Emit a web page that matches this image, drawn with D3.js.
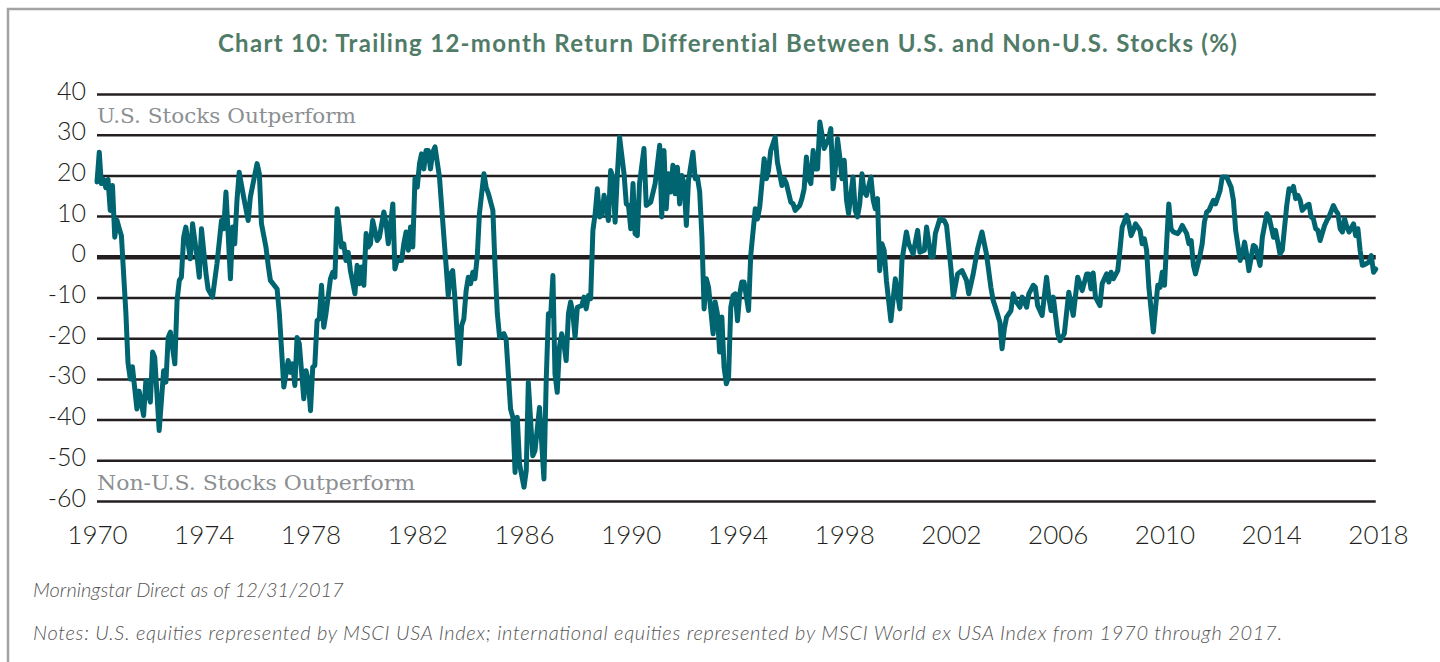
<!DOCTYPE html>
<html>
<head>
<meta charset="utf-8">
<script src="https://cdn.jsdelivr.net/npm/d3@7"></script>
<style>
  html, body { margin: 0; padding: 0; background: #fff; }
  svg { display: block; }
</style>
</head>
<body>
<div id="chart"></div>
<script>
//---------------------------DATA--------------------------------//
const dates = [
  "1970-01","1970-02","1970-03","1970-04","1970-05","1970-06","1970-07","1970-08","1970-09","1970-10","1970-11","1970-12",
  "1971-02","1971-03","1971-04","1971-05","1971-07","1971-08","1971-10","1971-11",
  "1972-01","1972-02","1972-03","1972-05","1972-07","1972-08","1972-09","1972-10","1972-12",
  "1973-01","1973-02","1973-03","1973-04","1973-05","1973-07","1973-08","1973-10","1973-11","1973-12",
  "1974-02","1974-03","1974-05","1974-07","1974-09","1974-10","1974-11","1974-12",
  "1975-01","1975-02","1975-03","1975-04","1975-05","1975-07","1975-09","1975-10",
  "1976-01","1976-02","1976-03","1976-05","1976-06","1976-07","1976-10","1976-11",
  "1977-01","1977-03","1977-04","1977-05","1977-06","1977-07","1977-08","1977-10","1977-11","1977-12",
  "1978-01","1978-02","1978-03","1978-04","1978-05","1978-06","1978-07","1978-08","1978-10","1978-11","1978-12",
  "1979-01","1979-03","1979-04","1979-05","1979-06","1979-07","1979-09","1979-10","1979-11","1979-12",
  "1980-01","1980-02","1980-03","1980-04","1980-05","1980-07","1980-08","1980-10","1980-11","1980-12",
  "1981-02","1981-03","1981-04","1981-06","1981-07","1981-08","1981-09","1981-10","1981-11","1981-12",
  "1982-01","1982-02","1982-03","1982-04","1982-05","1982-06","1982-07","1982-08","1982-09","1982-11",
  "1983-01","1983-02","1983-03","1983-04","1983-05","1983-06","1983-07","1983-08","1983-09","1983-10","1983-11","1983-12",
  "1984-01","1984-02","1984-03","1984-04","1984-05","1984-07","1984-08","1984-09","1984-11","1984-12",
  "1985-01","1985-02","1985-04","1985-05","1985-07","1985-08","1985-09","1985-10","1985-11",
  "1986-01","1986-02","1986-03","1986-05","1986-06","1986-08","1986-10","1986-11","1986-12",
  "1987-01","1987-02","1987-03","1987-04","1987-05","1987-06","1987-07","1987-08","1987-09","1987-10","1987-11","1987-12",
  "1988-01","1988-03","1988-04","1988-05","1988-06","1988-07","1988-08","1988-09","1988-10","1988-11","1988-12",
  "1989-01","1989-03","1989-04","1989-05","1989-06","1989-07","1989-08","1989-10","1989-11","1989-12",
  "1990-01","1990-02","1990-03","1990-04","1990-05","1990-07","1990-08","1990-10","1990-12",
  "1991-02","1991-03","1991-04","1991-05","1991-06","1991-07","1991-08","1991-09","1991-10","1991-11","1991-12",
  "1992-01","1992-02","1992-03","1992-05","1992-06","1992-07","1992-08","1992-09","1992-10","1992-11","1992-12",
  "1993-02","1993-03","1993-04","1993-05","1993-06","1993-07","1993-08","1993-09","1993-10","1993-11","1993-12",
  "1994-01","1994-02","1994-03","1994-04","1994-06","1994-07","1994-09","1994-10","1994-11",
  "1995-01","1995-02","1995-03","1995-04","1995-06","1995-07","1995-09","1995-10","1995-11",
  "1996-01","1996-02","1996-03","1996-05","1996-06","1996-07","1996-08","1996-09","1996-10","1996-11","1996-12",
  "1997-01","1997-02","1997-03","1997-04","1997-05","1997-06","1997-07","1997-08","1997-09","1997-10","1997-11","1997-12",
  "1998-01","1998-02","1998-03","1998-05","1998-06","1998-07","1998-08","1998-09","1998-10","1998-11",
  "1999-01","1999-02","1999-03","1999-04","1999-05","1999-06","1999-07","1999-08","1999-10","1999-12",
  "2000-02","2000-03","2000-05","2000-06","2000-08","2000-10","2000-11",
  "2001-01","2001-02","2001-04","2001-05","2001-06","2001-08","2001-10","2001-11",
  "2002-01","2002-02","2002-04","2002-05","2002-06","2002-08","2002-09","2002-11",
  "2003-01","2003-03","2003-05","2003-07","2003-08","2003-09","2003-11","2003-12",
  "2004-01","2004-02","2004-04","2004-05","2004-06","2004-08","2004-09","2004-11","2004-12",
  "2005-02","2005-03","2005-04","2005-06","2005-08","2005-09","2005-10","2005-11",
  "2006-01","2006-02","2006-04","2006-06","2006-08","2006-10","2006-12",
  "2007-02","2007-03","2007-04","2007-05","2007-06","2007-08","2007-09","2007-11","2007-12",
  "2008-01","2008-02","2008-04","2008-05","2008-06","2008-08","2008-09","2008-10","2008-11","2008-12",
  "2009-02","2009-03","2009-04","2009-05","2009-06","2009-08","2009-09","2009-10","2009-11","2009-12",
  "2010-01","2010-02","2010-03","2010-04","2010-05","2010-07","2010-08","2010-09","2010-11","2010-12",
  "2011-01","2011-02","2011-03","2011-05","2011-06","2011-07","2011-08","2011-09","2011-11","2011-12",
  "2012-02","2012-03","2012-05","2012-07","2012-08","2012-09","2012-11","2012-12",
  "2013-01","2013-02","2013-03","2013-05","2013-06","2013-08","2013-09","2013-11","2013-12",
  "2014-02","2014-03","2014-05","2014-06","2014-08","2014-09","2014-10","2014-11","2014-12",
  "2015-01","2015-02","2015-03","2015-05","2015-06","2015-07","2015-08","2015-09","2015-10","2015-11",
  "2016-01","2016-02","2016-03","2016-05","2016-06","2016-07","2016-08","2016-09","2016-10","2016-11","2016-12",
  "2017-02","2017-03","2017-04","2017-05","2017-06","2017-07","2017-09","2017-10","2017-11","2017-12"
];

const values = [
  18.4,25.7,18,19,17,19,11.4,17.5,4.8,9,7,5.2,
  -14,-26,-30,-27,-37.4,-33,-39,-30.4,
  -35.7,-23.4,-24.7,-42.7,-28,-30.8,-19.8,-18.5,-26.3,
  -10.7,-5.8,-5,4.8,7.3,-0.5,8.1,0,-5,6.9,
  -4.2,-7.9,-9.9,-1.7,8.9,6.9,15.9,5.7,
  -5.4,7.3,3.2,13.9,20.8,14.7,8.9,14.7,
  22.9,20.4,8.1,2.4,-2.1,-5.8,-7.9,-14,
  -32,-25.5,-28.4,-26.3,-31.6,-19.8,-21.4,-34.9,-28,-30.4,
  -37.8,-27.1,-26.7,-15.7,-15.2,-7,-17.3,-14,-5.4,-3.8,-5,
  11.8,2.4,3.2,-0.9,1.1,-3.4,-9.1,-2.1,-6.6,-2.5,
  -7,5.7,2.4,3.2,8.9,4,4.8,11,8.1,3.2,
  13,-3,-0.9,-0.9,3.2,6.1,1.6,7.3,2.4,19.2,
  17.1,22.9,25.3,21.6,26.1,26.1,21.6,25.7,27,19.6,
  4.8,-2.5,-9.5,-4.2,-3.4,-10.3,-18.9,-26.3,-16.9,-15.2,-8.3,-5,
  -6.6,-3.8,-5.4,0,10.6,20.4,17.1,15.5,11.4,-2.5,
  -14,-19.8,-18.9,-20.2,-37.4,-39.4,-53,-39.4,-50.9,
  -56.6,-52.5,-30.8,-48.9,-47.6,-37,-54.6,-30.4,-14,
  -14.4,-4.6,-28.8,-33.3,-22.2,-18.9,-21.4,-25.5,-14,-11.1,-14,-19.8,
  -12.4,-12,-9.9,-12.8,-9.5,-10.3,6.5,10.6,16.7,9.8,10.2,
  15.1,8.9,21.2,19.6,8.5,20,29.4,20.4,13,12.6,
  6.9,18,5.7,5.2,18,26.6,12.6,13.4,18,
  27.4,9.8,26.1,11.8,20.4,15.9,22.5,15.5,22,13,20,
  18,7.7,18.8,25.7,19.2,19.6,16,5,-12.8,-5.4,-7.5,
  -18.9,-11.1,-14,-23.4,-14.8,-27.1,-31.2,-29.6,-12.4,-9.5,-9.1,
  -15.7,-9.1,-6.2,-6.2,-13.2,0.3,11.8,9.3,12.2,
  24.1,19.2,21.2,26.1,29.4,23.3,17.5,19.2,18,
  13.4,13,11.4,12.6,14.3,16.7,24.5,19.2,18,26.1,21.6,
  21.6,33.1,30.2,26.6,27.8,29,31.5,16.7,21.6,29,24.5,19.2,
  23.7,13.9,10.6,19.6,11.4,9.8,13,20.4,15.9,15.1,
  19.6,13.9,11.8,14.3,-3.4,3.2,1.6,-5.8,-15.7,-5.4,
  -12.8,-0.9,6.1,3.2,0.7,6.5,1.1,
  1.6,7.3,0,0,5.7,9.3,8.9,7.7,
  -3,-9.9,-4.2,-3.8,-3.4,-5.8,-9.1,-4.2,
  2,6.1,0.7,-7.5,-10.7,-12.4,-16.1,-22.6,
  -17.7,-14.8,-13.2,-9.1,-10.7,-12.4,-9.9,-12.4,-9.1,
  -7,-7.5,-12,-14.4,-5,-9.9,-13.2,-9.9,
  -18.9,-20.6,-18.9,-8.7,-14.4,-5,-8.3,
  -4.2,-4.2,-7.9,-4,-9.9,-12,-6.6,-4.2,-6.2,
  -3.8,-5.4,-3.4,1.6,7.3,10.2,8.1,5.2,6.5,8.1,
  6.5,3.2,4.4,1.6,-7.5,-18.5,-12.4,-7,-7.5,-3.8,
  -7,4,13,6.9,6.1,5.7,6.5,7.7,5.7,3.2,
  4,-2.1,-4.2,0.3,3.2,8.5,11,11.4,13.9,13,
  16.3,19.6,19.6,17.1,13.9,6.5,-0.9,0.7,
  3.6,0.3,-3.4,2.8,2.4,-2.1,4.8,10.6,9.8,
  4.8,6.5,0.7,1.6,12.6,16.7,16.3,17.3,14.3,
  15.1,13.9,11.4,12.6,12.9,9.8,9.3,6.9,6.5,4,
  7.7,8.9,9.8,12.6,11.4,10.6,6.9,6.1,9.3,7.3,6.1,
  8.1,5.2,6.9,1.6,-2.1,-1.9,-1.3,0.3,-3.8,-3
];

const yTicks = [40, 30, 20, 10, 0, -10, -20, -30, -40, -50, -60];
const xTickYears = [1970, 1974, 1978, 1982, 1986, 1990, 1994, 1998, 2002, 2006, 2010, 2014, 2018];

const titleText = "Chart 10: Trailing 12-month Return Differential Between U.S. and Non-U.S. Stocks (%)";
const topNote = "U.S. Stocks Outperform";
const bottomNote = "Non-U.S. Stocks Outperform";
const sourceText = "Morningstar Direct as of 12/31/2017";
const notesText = "Notes: U.S. equities represented by MSCI USA Index; international equities represented by MSCI World ex USA Index from 1970 through 2017.";

//-------------------------PREPARATION---------------------------//
const width = 1440;
const height = 662;
const plotLeft = 97;
const plotRight = 1378;
const plotTop = 94;
const plotBottom = 501;

const parse = d3.timeParse("%Y-%m");
const dataset = dates.map(function(d, i) {
    return { date: parse(d), value: values[i] };
});

const svg = d3.select("#chart").append("svg")
    .attr("width", width)
    .attr("height", height);

const xScale = d3.scaleTime()
    .domain([new Date(1970, 0, 1), new Date(2018, 0, 1)])
    .range([plotLeft, plotRight]);
const yScale = d3.scaleLinear()
    .domain([-60, 40])
    .range([plotBottom, plotTop]);

// frame
svg.append("path")
    .attr("d", "M8," + (height + 5) + " L8,9 L" + (width + 5) + ",9")
    .attr("fill", "none")
    .attr("stroke", "#a3a3a3")
    .attr("stroke-width", 2.5);

// title
svg.append("text")
    .attr("x", 728)
    .attr("y", 52)
    .attr("text-anchor", "middle")
    .style("font-family", "Lato, 'Open Sans', sans-serif")
    .style("font-weight", 700)
    .style("font-size", "24px")
    .style("letter-spacing", "1.3px")
    .style("fill", "#4f7b67")
    .text(titleText);

//-----------------------------AXES------------------------------//
const yaxis = d3.axisLeft(yScale)
    .tickValues(yTicks)
    .tickSize(-(xScale(new Date(2017, 11, 1)) - plotLeft))
    .tickPadding(11)
    .tickFormat(function(d) { return String(d); });

const gy = svg.append("g")
    .attr("transform", "translate(" + plotLeft + ",0)")
    .call(yaxis);
gy.select(".domain").remove();
gy.selectAll(".tick line")
    .attr("stroke", "#231f20")
    .attr("stroke-width", function(d) { return d === 0 ? 4.5 : 2.5; });
gy.selectAll(".tick text")
    .attr("dy", "0.2em")
    .style("font-family", "Lato, 'Open Sans', sans-serif")
    .style("font-weight", 300)
    .style("font-size", "25px")
    .style("fill", "#231f20");

const xaxis = d3.axisBottom(xScale)
    .tickValues(xTickYears.map(function(y) { return new Date(y, 0, 1); }))
    .tickSize(0)
    .tickPadding(25)
    .tickFormat(d3.timeFormat("%Y"));

const gx = svg.append("g")
    .attr("transform", "translate(0," + plotBottom + ")")
    .call(xaxis);
gx.select(".domain").remove();
gx.selectAll(".tick text")
    .style("font-family", "Lato, 'Open Sans', sans-serif")
    .style("font-weight", 300)
    .style("font-size", "26px")
    .style("fill", "#231f20");

//---------------------------NOTES-------------------------------//
svg.append("text")
    .attr("x", plotLeft)
    .attr("y", 123)
    .style("font-family", "'DejaVu Serif', serif")
    .style("font-size", "20px")
    .style("fill", "#8c8f92")
    .attr("textLength", 259)
    .attr("lengthAdjust", "spacingAndGlyphs")
    .text(topNote);

svg.append("text")
    .attr("x", plotLeft)
    .attr("y", 490)
    .style("font-family", "'DejaVu Serif', serif")
    .style("font-size", "20px")
    .style("fill", "#8c8f92")
    .attr("textLength", 318)
    .attr("lengthAdjust", "spacingAndGlyphs")
    .text(bottomNote);

//----------------------------LINE-------------------------------//
svg.append("path")
    .datum(dataset)
    .attr("fill", "none")
    .attr("stroke", "#006571")
    .attr("stroke-width", 5)
    .attr("stroke-linejoin", "round")
    .attr("stroke-linecap", "round")
    .attr("d", d3.line()
        .x(function(d) { return xScale(d.date); })
        .y(function(d) { return yScale(d.value); }));

//--------------------------FOOTNOTES----------------------------//
svg.append("text")
    .attr("x", 33)
    .attr("y", 597)
    .style("font-family", "Lato, 'Open Sans', sans-serif")
    .style("font-style", "italic")
    .style("font-weight", 300)
    .style("font-size", "20px")
    .style("fill", "#555555")
    .text(sourceText);

svg.append("text")
    .attr("x", 33)
    .attr("y", 640)
    .style("font-family", "Lato, 'Open Sans', sans-serif")
    .style("font-style", "italic")
    .style("font-weight", 300)
    .style("font-size", "20px")
    .style("fill", "#555555")
    .attr("textLength", 1249)
    .attr("lengthAdjust", "spacing")
    .text(notesText);
</script>
</body>
</html>
